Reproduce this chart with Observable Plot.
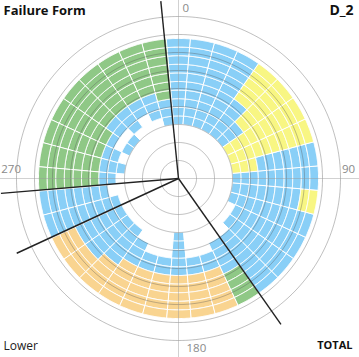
<!DOCTYPE html>
<html><head><meta charset="utf-8">
<script src="https://cdn.jsdelivr.net/npm/d3@7"></script>
<script src="https://cdn.jsdelivr.net/npm/@observablehq/plot@0.6"></script>
<style>
body{margin:0;background:#fff;overflow:hidden;}
</style>
</head><body><div id="chart"></div>
<script>
// ---- data ----
const sectorCenters = d3.range(0, 360, 10);            // degrees, clockwise from top
const categoryKeys  = ["G", "B", "Y", "O"];
const categoryColors = ["#8fc886", "#89cff7", "#f8f683", "#f9d490"];
// one string per sector, bands inner -> outer ('.' = empty)
const cellPattern = [
  "BBBBBBBBBB", // 0
  "BBBBBBBBBB", // 10
  "BBBBBBBBBB", // 20
  "BBBBBBBBBB", // 30
  "BBBBBYYYYY", // 40
  "BBBYYYYYYY", // 50
  "YYYYYYYYYY", // 60
  "YYYYYYYYYY", // 70
  "YYYBBBBBBB", // 80
  "BBBBBBBBBB", // 90
  "BBBBBBBBYY", // 100
  "BBBBBBBBBB", // 110
  ".BBBBBBBBB", // 120
  ".BBBBBBBBB", // 130
  "..BBBBBBBB", // 140
  "..BBBBGGGG", // 150
  "...BBOOOOO", // 160
  "...BBOOOOO", // 170
  "BBBBBOOOOO", // 180
  "...BBOOOOO", // 190
  "...BBOOOOO", // 200
  "..BBBOOOOO", // 210
  ".BBBBBOOOO", // 220
  ".BBBBBBOOO", // 230
  ".BBBBBBOOO", // 240
  ".BBBBBBBBB", // 250
  "..BBBBBBBB", // 260
  ".BBGGGGGGG", // 270
  "BBBGGGGGGG", // 280
  ".BBGGGGGGG", // 290
  "B.BGGGGGGG", // 300
  "B.BBGGGGGG", // 310
  ".BBBGGGGGG", // 320
  "..BBGGGGGG", // 330
  ".BBBGGGGGG", // 340
  "BBBGGGGGGG"  // 350
];
const gridRadii   = [1, 2, 3, 4, 5, 6, 7, 8, 9];
const tickAngles  = [0, 90, 180, 270];
const tickLabels  = ["0", "90", "180", "270"];
const needleAngles = [354.3, 265.2, 245.2, 144.9];
const cornerLabels = ["Failure Form", "D_2", "Lower", "TOTAL"];

// ---- geometry helpers (polar -> lon/lat for azimuthal projection) ----
const bandCount = 10, rInner = 3.0, rOuter = 7.78, maxR = 9;
const bandW = (rOuter - rInner) / bandCount;
const lon = (theta) => 180 - theta;
const lat = (r) => 90 - r;

function cellPolygon(t0, t1, r0, r1) {
  const ring = [], n = 20;
  for (let i = 0; i <= n; i++) ring.push([lon(t0 + (t1 - t0) * i / n), lat(r1)]);
  for (let i = n; i >= 0; i--) ring.push([lon(t0 + (t1 - t0) * i / n), lat(r0)]);
  ring.push(ring[0]);
  const poly = {type: "Polygon", coordinates: [ring]};
  if (d3.geoArea(poly) > 2 * Math.PI) ring.reverse();
  return poly;
}

const cells = [];
sectorCenters.forEach((c, s) => {
  const row = cellPattern[s];
  for (let b = 0; b < bandCount; b++) {
    const k = row[b];
    if (k === ".") continue;
    cells.push({cat: k, geom: cellPolygon(c - 5, c + 5, rInner + b * bandW, rInner + (b + 1) * bandW)});
  }
});

const circleGeom = (r) => d3.geoCircle().center([0, 90]).radius(r).precision(0.5)();

const labelStyle = {fill: "#8a8a8a", fontSize: 11.5};
const tickMarks = [
  Plot.text([0], {x: d => lon(tickAngles[d]), y: lat(9.45), text: d => tickLabels[d], textAnchor: "start", dx: 4, ...labelStyle}),
  Plot.text([1], {x: d => lon(tickAngles[d]), y: lat(9.45), text: d => tickLabels[d], textAnchor: "middle", dy: -9, ...labelStyle}),
  Plot.text([2], {x: d => lon(tickAngles[d]), y: lat(9.45), text: d => tickLabels[d], textAnchor: "start", dx: 8, ...labelStyle}),
  Plot.text([3], {x: d => lon(tickAngles[d]), y: lat(9.3), text: d => tickLabels[d], textAnchor: "middle", dy: -9, ...labelStyle})
];

const chart = Plot.plot({
  width: 359,
  height: 357,
  marginLeft: 16, marginRight: 19, marginTop: 16, marginBottom: 17,
  projection: {
    type: "azimuthal-equidistant",
    rotate: [0, -90],
    domain: circleGeom(maxR),
    clip: false
  },
  color: {domain: categoryKeys, range: categoryColors},
  style: {fontFamily: "'Open Sans', sans-serif", background: "white"},
  marks: [
    Plot.geo(cells, {geometry: d => d.geom, fill: d => d.cat, stroke: "white", strokeWidth: 1}),
    Plot.geo(gridRadii, {geometry: d => circleGeom(d), fill: "none", stroke: "#555", strokeOpacity: 0.38, strokeWidth: 1}),
    Plot.link(tickAngles, {x1: d => lon(d), y1: 90, x2: d => lon(d), y2: lat(10.1), stroke: "#999", strokeOpacity: 0.45, strokeWidth: 1}),
    Plot.link(needleAngles, {x1: d => lon(d), y1: 90, x2: d => lon(d), y2: lat(9.9), stroke: "#222", strokeWidth: 1.4}),
    ...tickMarks,
    Plot.text([cornerLabels[0]], {frameAnchor: "top-left", dx: -13, dy: -6, lineAnchor: "middle", textAnchor: "start", fontWeight: "bold", fontSize: 13, fill: "#111"}),
    Plot.text([cornerLabels[1]], {frameAnchor: "top-right", dx: 13, dy: -6, lineAnchor: "middle", textAnchor: "end", fontWeight: "bold", fontSize: 14, fill: "#111"}),
    Plot.text([cornerLabels[2]], {frameAnchor: "bottom-left", dx: -13, dy: 9, lineAnchor: "bottom", textAnchor: "start", fontSize: 12, fill: "#222"}),
    Plot.text([cornerLabels[3]], {frameAnchor: "bottom-right", dx: 12, dy: 8, lineAnchor: "bottom", textAnchor: "end", fontWeight: "bold", fontSize: 11, fill: "#111"})
  ]
});
document.getElementById("chart").appendChild(chart);
</script>
</body></html>
